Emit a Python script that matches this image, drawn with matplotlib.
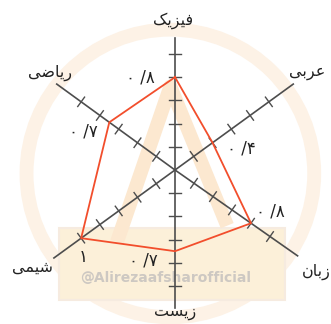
import numpy as np
import matplotlib
matplotlib.use("Agg")
import matplotlib.pyplot as plt
from matplotlib.patches import Circle, Rectangle

# subjects, clockwise from the top (Arabic presentation forms, visual order,
# since matplotlib does no Arabic shaping)
subjects = ['\uFB8F\uFBFE\uFEB0\uFBFF\uFED3',   # فیزیک
            '\uFBFD\uFE91\uFEAE\uFECB',         # عربی
            '\uFEE5\uFE8E\uFE91\uFEAF',         # زبان
            '\uFE96\uFEB4\uFBFE\uFEAF',         # زیست
            '\uFBFD\uFEE4\uFBFF\uFEB7',         # شیمی
            '\uFBFD\uFEBF\uFE8E\uFBFE\uFEAD']   # ریاضی
scores = [0.8, 0.4, 0.8, 0.7, 1.0, 0.7]
score_labels = ['\u06F0 /\u06F8', '\u06F0 /\u06F4', '\u06F0 /\u06F8',
                '\u06F0 /\u06F7', '\u06F1', '\u06F0 /\u06F7']
tick_values = [0.2, 0.4, 0.6, 0.8, 1.0]

# hand drawn layout: axis directions (deg) and half-axis lengths
angles = np.radians([90, 36, -35, -90, 216, 144])
lengths = [1.14, 1.26, 1.29, 1.19, 1.29, 1.26]
name_pos = [(-0.02, 1.29), (1.14, 0.84), (1.22, -0.88), (0, -1.23), (-1.23, -0.84), (-1.08, 0.84)]
label_off = [(-0.3, 0.0), (0.25, -0.05), (0.17, 0.1), (-0.27, -0.08), (0.02, -0.16), (-0.22, -0.08)]

plt.rcParams['font.family'] = ['DejaVu Sans']
fig = plt.figure(figsize=(3.31, 3.24), dpi=100)
ax = fig.add_axes([0, 0, 1, 1])
ax.set_xlim(-175 / 116, 156 / 116)
ax.set_ylim(-154 / 116, 170 / 116)
ax.axis('off')

# faint watermark
ax.add_patch(Circle((-0.04, -0.03), 1.24, fill=False, lw=10, ec='#fdf2e6', zorder=0))
ax.add_patch(Rectangle((-1.0, -1.12), 1.95, 0.62, fc='#fcf0d9', ec='#f6ebe0', lw=1.5, zorder=0))
ax.plot([-0.5, -0.04, 0.45], [-0.62, 0.72, -0.48], color='#fce8d0', lw=10, zorder=0,
        solid_capstyle='butt')
ax.text(-0.08, -0.93, '@Alirezaafsharofficial', color='#cdc8c2', fontsize=10,
        fontweight='bold', ha='center', va='center', zorder=0)

# axes with tick marks
for a, L in zip(angles, lengths):
    d = np.array([np.cos(a), np.sin(a)])
    n = np.array([-d[1], d[0]])
    ax.plot([0, L * d[0]], [0, L * d[1]], color='#4d4d4d', lw=1.2, zorder=2)
    for t in tick_values:
        p = t * d
        q1, q2 = p - 0.05 * n, p + 0.05 * n
        ax.plot([q1[0], q2[0]], [q1[1], q2[1]], color='#4d4d4d', lw=1.0, zorder=2)

# score polygon
xs = [v * np.cos(a) for v, a in zip(scores, angles)]
ys = [v * np.sin(a) for v, a in zip(scores, angles)]
ax.plot(xs + xs[:1], ys + ys[:1], color='#f24e2c', lw=1.3, zorder=3)

for x, y, s, (dx, dy) in zip(xs, ys, score_labels, label_off):
    ax.text(x + dx, y + dy, s, fontsize=12, color='#222222', ha='center', va='center')

for (x, y), s in zip(name_pos, subjects):
    ax.text(x, y, s, fontsize=11.5, color='#222222', ha='center', va='center')

fig.savefig('out.png', dpi=100)
